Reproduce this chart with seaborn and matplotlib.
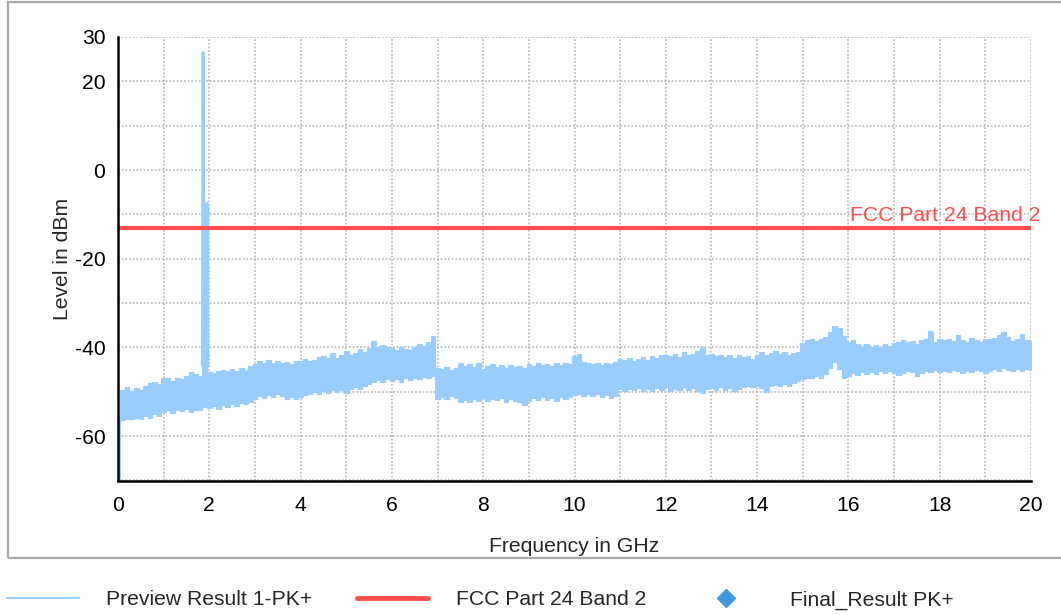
import numpy as np
import matplotlib
matplotlib.use("Agg")
import matplotlib.pyplot as plt
from matplotlib.lines import Line2D
from matplotlib.patches import Rectangle
import seaborn as sns

# ---- data -------------------------------------------------------------
# Frequency grid of the preview sweep (GHz), 0.1 GHz resolution
freq_ghz = np.round(np.arange(0.0, 20.05, 0.1), 1)

# Upper envelope of the peak-detector trace (dBm), one row per GHz
trace_upper = [
    -56.0, -49.5, -49.0, -49.8, -49.2, -49.6, -48.6, -48.0, -47.8, -48.2,
    -47.0, -46.8, -47.6, -46.9, -47.2, -46.4, -45.6, -46.0, -46.4, -40.0,
    -45.6, -45.8, -45.4, -45.0, -45.2, -44.8, -45.3, -44.6, -45.0, -44.2,
    -43.8, -43.0, -43.6, -42.8, -43.4, -43.0, -43.6, -43.2, -43.8, -43.0,
    -43.0, -42.6, -43.0, -42.8, -42.2, -42.0, -42.4, -41.2, -42.4, -41.8,
    -40.8, -41.6, -41.2, -40.4, -41.0, -40.2, -38.6, -40.0, -39.4, -40.0,
    -40.2, -40.6, -40.0, -40.4, -40.6, -40.0, -39.2, -39.6, -38.8, -37.4,
    -44.6, -44.8, -44.4, -45.0, -44.6, -43.4, -44.2, -43.8, -44.4, -43.6,
    -44.8, -44.2, -43.8, -44.4, -44.0, -44.6, -44.0, -44.4, -44.2, -44.6,
    -43.8, -44.2, -43.6, -44.0, -43.8, -44.2, -43.6, -44.0, -43.4, -43.8,
    -42.0, -41.4, -43.2, -43.6, -43.8, -43.4, -44.0, -43.4, -43.8, -43.2,
    -42.6, -42.8, -42.4, -43.0, -42.6, -42.2, -42.8, -42.0, -42.4, -41.8,
    -41.6, -42.0, -41.4, -42.2, -41.0, -41.8, -41.4, -40.8, -39.8, -41.6,
    -41.4, -42.0, -41.6, -42.2, -41.8, -42.4, -41.8, -42.2, -42.0, -42.6,
    -41.6, -41.0, -41.6, -41.2, -40.8, -41.4, -41.0, -41.6, -41.2, -41.0,
    -39.0, -38.4, -38.0, -38.6, -38.2, -37.6, -36.6, -35.2, -35.6, -37.4,
    -38.8, -38.4, -39.2, -39.6, -39.2, -39.8, -39.4, -39.8, -39.2, -39.6,
    -39.0, -38.8, -38.4, -38.8, -38.6, -39.2, -38.4, -38.0, -36.2, -38.8,
    -38.0, -38.4, -38.2, -38.6, -37.2, -38.4, -38.8, -37.8, -38.4, -38.8,
    -38.2, -38.0, -37.8, -37.2, -36.6, -37.6, -38.6, -38.2, -37.0, -38.4,
    -38.6,
]

# Lower envelope of the peak-detector trace (dBm)
trace_lower = [
    -70.0, -56.4, -56.2, -56.2, -56.0, -56.2, -55.4, -55.8, -55.0, -55.4,
    -54.6, -54.2, -54.8, -54.0, -54.4, -53.8, -54.6, -54.0, -54.2, -53.4,
    -53.6, -53.2, -53.8, -53.0, -53.4, -52.8, -53.2, -52.6, -52.8, -52.2,
    -51.6, -51.0, -51.4, -50.8, -51.2, -50.6, -51.0, -51.6, -51.2, -51.6,
    -51.2, -50.8, -50.6, -50.0, -50.4, -49.8, -50.2, -49.6, -50.0, -49.6,
    -50.2, -49.4, -49.0, -49.4, -48.8, -48.2, -47.8, -47.4, -47.8, -47.2,
    -47.6, -47.2, -47.8, -47.0, -47.4, -46.8, -47.2, -46.6, -46.8, -46.4,
    -51.6, -51.2, -51.6, -51.0, -51.4, -52.4, -51.8, -52.2, -51.6, -52.0,
    -51.4, -52.0, -51.6, -51.8, -51.4, -52.2, -51.6, -52.0, -52.4, -53.0,
    -52.0, -51.4, -51.8, -51.2, -51.8, -51.4, -52.0, -51.2, -51.6, -51.2,
    -50.8, -50.4, -51.0, -50.6, -51.0, -50.6, -51.2, -50.8, -51.4, -51.0,
    -49.4, -49.8, -49.4, -49.6, -49.2, -49.8, -49.4, -49.8, -49.2, -49.6,
    -49.0, -49.8, -49.4, -49.6, -49.0, -49.6, -49.2, -49.8, -50.2, -49.4,
    -49.2, -49.6, -49.0, -49.6, -49.2, -49.8, -49.4, -49.0, -48.6, -49.0,
    -48.6, -49.2, -50.0, -48.8, -48.4, -48.8, -48.2, -48.6, -48.0, -47.6,
    -47.2, -46.8, -47.0, -46.4, -46.8, -46.0, -44.6, -43.2, -44.8, -46.8,
    -46.4, -45.8, -46.2, -45.6, -46.0, -45.6, -46.0, -45.4, -45.8, -45.4,
    -45.8, -46.2, -45.8, -45.2, -45.6, -46.4, -45.8, -45.2, -45.6, -45.0,
    -45.6, -45.2, -45.6, -45.0, -45.4, -45.8, -45.2, -45.6, -45.0, -45.4,
    -45.8, -45.2, -44.8, -45.2, -44.6, -45.0, -45.4, -44.8, -45.2, -44.8,
    -45.0,
]

# Carrier emission around 1.9 GHz (fundamental and neighbouring peak)
spike_freq = [1.85, 1.865, 1.885, 1.93, 1.95, 1.965]
spike_level = [-44.0, 26.5, -40.0, -40.0, -7.5, -44.0]

# Limit line
limit_freq = [0.0, 20.0]
limit_level = [-13.0, -13.0]
limit_name = "FCC Part 24 Band 2"

# Axis ticks
x_ticks = list(range(0, 21))
x_tick_labels = [str(v) if v % 2 == 0 else "" for v in x_ticks]
y_ticks = list(range(-70, 31, 10))
y_tick_labels = ["", "-60", "", "-40", "", "-20", "", "0", "", "20", "30"]

legend_labels = ["Preview Result 1-PK+", limit_name, "Final_Result PK+"]

# ---- style ------------------------------------------------------------
sns.set_style("white")
plt.rcParams["font.family"] = ["Liberation Sans", "DejaVu Sans"]
FS = 15.2
TRACE = "#99ccff"
LIMIT = "#ff4d4d"
FINAL = "#3f97de"

fig = plt.figure(figsize=(10.61, 6.15), dpi=100)
W, H = 1061.0, 615.0
ax = fig.add_axes([118 / W, 1 - 480.5 / H, (1031 - 118) / W, (480.5 - 37) / H])

# Preview trace: filled between its min/max envelope plus the carrier spike
ax.fill_between(freq_ghz, trace_lower, trace_upper, step="mid", color=TRACE,
                lw=0.8, edgecolor=TRACE, zorder=3)
sns.lineplot(x=spike_freq, y=spike_level, ax=ax, color=TRACE, lw=2.2,
             sort=False, estimator=None, zorder=3)

# Limit line with its name at the right end
sns.lineplot(x=limit_freq, y=limit_level, ax=ax, color=LIMIT, lw=3.0,
             estimator=None, zorder=4)
ax.text(20.2, limit_level[-1] + 0.6, limit_name, color=LIMIT, fontsize=FS,
        ha="right", va="bottom", zorder=5)

ax.set_xlim(0, 20)
ax.set_ylim(-70, 30)
ax.set_xticks(x_ticks)
ax.set_xticklabels(x_tick_labels)
ax.set_yticks(y_ticks)
ax.set_yticklabels(y_tick_labels)
ax.tick_params(axis="both", direction="inout", length=12, width=1.5,
               color="black", labelsize=FS, labelcolor="black")
ax.tick_params(axis="x", pad=5)
ax.tick_params(axis="y", pad=3)

ax.grid(True, color="#b4b4b4", linestyle=(0, (1.2, 1.2)), linewidth=1.1, zorder=0)
ax.set_axisbelow(True)
for side in ("top", "right"):
    ax.spines[side].set_visible(False)
for side in ("left", "bottom"):
    ax.spines[side].set_color("black")
    ax.spines[side].set_linewidth(1.8)
    ax.spines[side].set_zorder(6)

ax.set_xlabel("Frequency in GHz", fontsize=FS, labelpad=16)
ax.set_ylabel("Level in dBm", fontsize=FS, labelpad=2)

# Outer chart frame
fig.add_artist(Rectangle((7.5 / W, 1 - 558 / H), 1.2, (558 - 2) / H,
                         transform=fig.transFigure, fill=False,
                         edgecolor="#a8a8a8", lw=1.6))

# Legend below the frame
handles = [
    Line2D([], [], color=TRACE, lw=1.5),
    Line2D([], [], color=LIMIT, lw=3.5),
    Line2D([], [], color=FINAL, lw=0, marker="D", markersize=9),
]
fig.legend(handles, legend_labels, loc="center left",
           bbox_to_anchor=(7 / W, 1 - 600 / H), ncol=3, frameon=False,
           fontsize=FS, handlelength=3.4, handletextpad=1.3,
           columnspacing=2.1, borderpad=0, borderaxespad=0)

fig.savefig("out.png", dpi=100)
